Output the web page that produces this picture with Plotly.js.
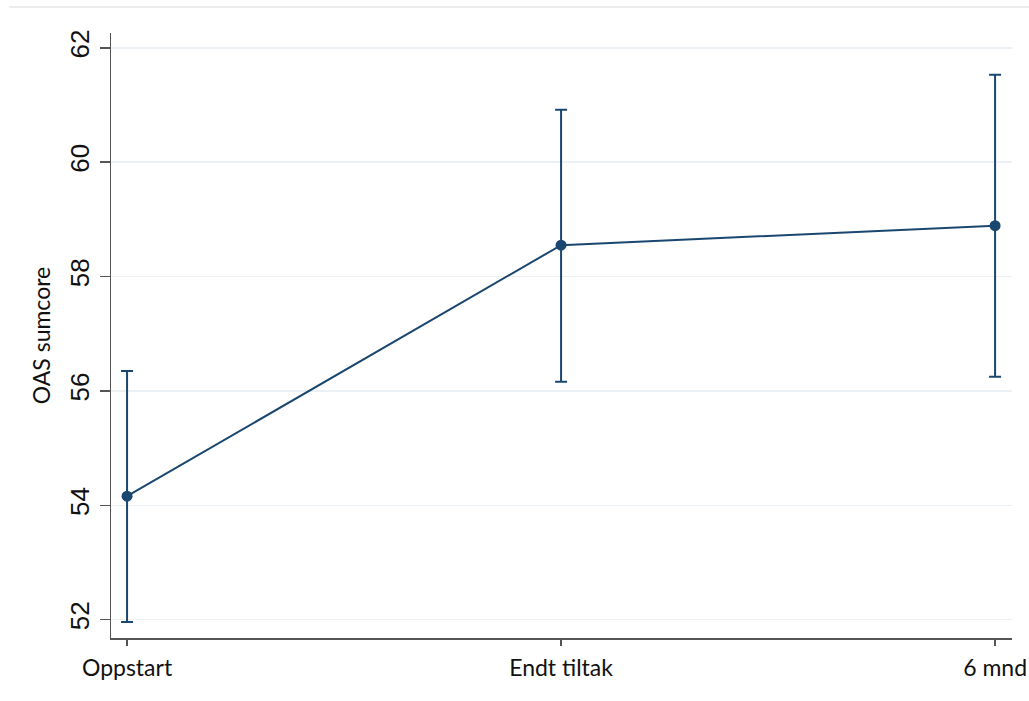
<!DOCTYPE html>
<html>
<head>
<meta charset="utf-8">
<script src="https://cdn.plot.ly/plotly-3.0.1.min.js"></script>
<style>html,body{margin:0;padding:0;background:#fff;}#chart{width:1029px;height:701px;}</style>
</head>
<body>
<div id="chart"></div>
<script>
var categories = ["Oppstart", "Endt tiltak", "6 mnd"];
var means = [54.16, 58.55, 58.89];
var upper = [56.35, 60.92, 61.53];
var lower = [51.96, 56.16, 56.25];
var yTicks = [52, 54, 56, 58, 60, 62];

var xIdx = categories.map(function(c, i){ return i; });
var errPlus = means.map(function(m, i){ return upper[i] - m; });
var errMinus = means.map(function(m, i){ return m - lower[i]; });

var color = "#1a476f";
var trace = {
  x: xIdx, y: means, type: "scatter", mode: "lines+markers",
  line: {color: color, width: 2},
  marker: {color: color, size: 11},
  error_y: {type: "data", symmetric: false, array: errPlus, arrayminus: errMinus,
            color: color, thickness: 2, width: 6},
  hoverinfo: "skip", showlegend: false
};

var layout = {
  width: 1029, height: 701,
  margin: {l: 111, r: 17, t: 33, b: 63},
  paper_bgcolor: "#ffffff", plot_bgcolor: "#ffffff",
  xaxis: {
    range: [-0.037, 2.039], tickmode: "array", tickvals: xIdx, ticktext: categories,
    showgrid: false, zeroline: false, showline: true, linecolor: "#555555", linewidth: 1.5,
    ticks: "outside", ticklen: 6, tickcolor: "#555555", tickwidth: 1.5, ticklabelstandoff: 3,
    tickfont: {family: "Lato, sans-serif", size: 23, color: "#111111"}
  },
  yaxis: {
    range: [51.68, 62.26], tickmode: "array", tickvals: yTicks, ticktext: yTicks.map(String),
    tickangle: -90, showgrid: true, gridcolor: "#eaf0f3", gridwidth: 1.5, zeroline: false,
    showline: true, linecolor: "#555555", linewidth: 1.5,
    ticks: "outside", ticklen: 10, tickcolor: "#555555", tickwidth: 1.5,
    tickfont: {family: "'Liberation Sans Narrow', 'Liberation Sans', sans-serif", size: 26, color: "#111111"},
    title: {text: "OAS sumcore", font: {family: "Lato, sans-serif", size: 23, color: "#111111"}, standoff: 8}
  },
  shapes: [{type: "line", xref: "paper", yref: "paper", x0: -0.113, x1: 1.02, y0: 1.043, y1: 1.043,
            line: {color: "#e6e6e6", width: 1.5}}]
};

Plotly.newPlot("chart", [trace], layout, {displayModeBar: false, staticPlot: true});
</script>
</body>
</html>
